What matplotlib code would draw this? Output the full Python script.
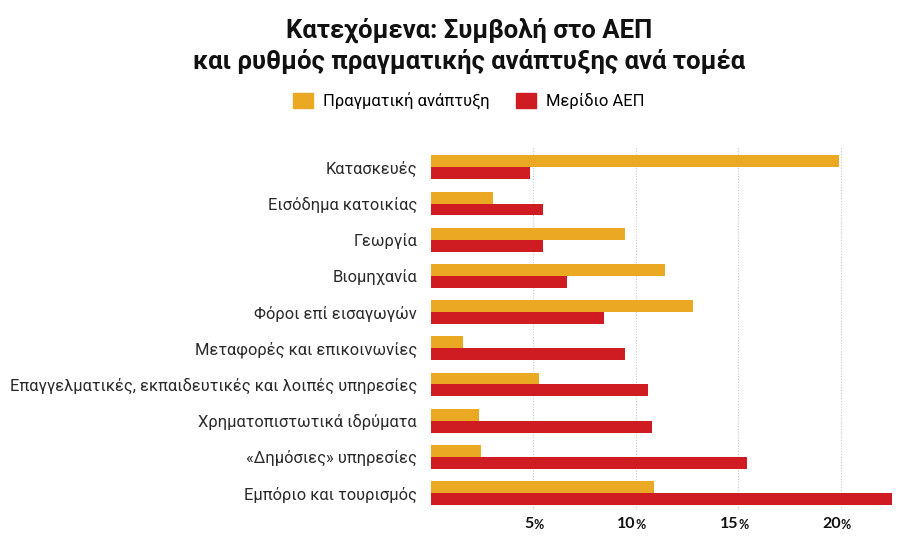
import matplotlib
matplotlib.use('Agg')
import matplotlib.pyplot as plt
from matplotlib.patches import Patch
import numpy as np

sectors = ['Κατασκευές', 'Εισόδημα κατοικίας', 'Γεωργία', 'Βιομηχανία',
           'Φόροι επί εισαγωγών', 'Μεταφορές και επικοινωνίες',
           'Επαγγελματικές, εκπαιδευτικές και λοιπές υπηρεσίες',
           'Χρηματοπιστωτικά ιδρύματα', '«Δημόσιες» υπηρεσίες',
           'Εμπόριο και τουρισμός']
growth = [19.9, 3.05, 9.45, 11.4, 12.8, 1.55, 5.25, 2.35, 2.45, 10.9]
gdp_share = [4.85, 5.45, 5.45, 6.65, 8.45, 9.45, 10.6, 10.8, 15.4, 22.5]
ticks = [5, 10, 15, 20]

ORANGE = '#EBA823'
RED = '#CF1C22'

fig = plt.figure(figsize=(9, 5.4), dpi=100)
ax = fig.add_axes([431 / 900, 30 / 540, 461 / 900, 364 / 540])

y = np.arange(len(sectors))
h = 0.33
ax.barh(y - h / 2, growth, h, color=ORANGE, label='Πραγματική ανάπτυξη')
ax.barh(y + h / 2, gdp_share, h, color=RED, label='Μερίδιο ΑΕΠ')

ax.set_xlim(0, 22.5)
ax.set_ylim(9.47, -0.59)

for t in ticks:
    ax.axvline(t, color='#c8c8c8', lw=0.8, ls=(0, (1, 1.5)), zorder=0)

ax.set_yticks(y)
ax.set_yticklabels(sectors, family='Roboto', fontsize=11.9, color='#2a2a2a')
ax.tick_params(axis='y', length=0, pad=10)
ax.set_xticks([])
for s in ax.spines.values():
    s.set_visible(False)

# tick labels: bold number, smaller percent sign
for t in ticks:
    ax.annotate(str(t), xy=(t, 0), xycoords=('data', 'axes fraction'),
                xytext=(0, -10), textcoords='offset points',
                ha='right', va='center', family='Lato', fontweight='bold',
                fontsize=11.5, color='#111111')
    ax.annotate('%', xy=(t, 0), xycoords=('data', 'axes fraction'),
                xytext=(0, -10.5), textcoords='offset points',
                ha='left', va='center', family='Lato', fontweight='bold',
                fontsize=9, color='#111111')

cx = 469 / 900
fig.text(cx, 1 - 30 / 540, 'Κατεχόμενα: Συμβολή στο ΑΕΠ', ha='center', va='center',
         family='Roboto', fontweight='bold', fontsize=18.5, color='#111111')
fig.text(cx, 1 - 61 / 540, 'και ρυθμός πραγματικής ανάπτυξης ανά τομέα', ha='center',
         va='center', family='Roboto', fontweight='bold', fontsize=18.5, color='#111111')

handles = [Patch(color=ORANGE, label='Πραγματική ανάπτυξη'),
           Patch(color=RED, label='Μερίδιο ΑΕΠ')]
fig.legend(handles=handles, loc='center', bbox_to_anchor=(cx, 1 - 101 / 540),
           ncol=2, frameon=False, handlelength=1.2, handleheight=1.0,
           handletextpad=0.6, columnspacing=1.6,
           prop={'family': 'Roboto', 'size': 12})

fig.savefig('out.png', dpi=100)
